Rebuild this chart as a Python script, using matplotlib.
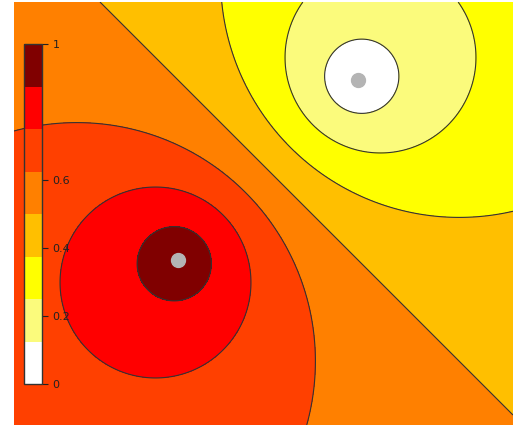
import matplotlib
matplotlib.use('Agg')
import matplotlib.pyplot as plt
import numpy as np
from matplotlib.colors import ListedColormap, BoundaryNorm

# obszar i zrodla
x_range = [0.0, 4.99]
y_range = [0.0, 4.23]
hot_source = [1.64, 1.65]
cold_source = [3.44, 3.45]

levels = [0, 0.125, 0.25, 0.375, 0.5, 0.625, 0.75, 0.875, 1.0]
colors = ['#ffffff', '#fbfb7c', '#ffff00', '#ffbf00',
          '#ff8000', '#ff4000', '#ff0000', '#800000']
cbar_ticks = [0, 0.2, 0.4, 0.6, 1]
cbar_labels = ['0', '0.2', '0.4', '0.6', '1']

# siatka
x = np.linspace(x_range[0], x_range[1], 700)
y = np.linspace(y_range[0], y_range[1], 600)
X, Y = np.meshgrid(x, y)
r1 = np.hypot(X - hot_source[0], Y - hot_source[1])
r2 = np.hypot(X - cold_source[0], Y - cold_source[1])
Z = r2 / (r1 + r2)

cmap = ListedColormap(colors)
norm = BoundaryNorm(levels, cmap.N)

fig = plt.figure(figsize=(5.13, 4.25), dpi=100)
ax = fig.add_axes([14 / 513, 0, 499 / 513, 423 / 425])
cf = ax.contourf(X, Y, Z, levels=levels, cmap=cmap, norm=norm)
ax.contour(X, Y, Z, levels=levels[1:-1], colors='#333333', linewidths=0.8)
ax.plot([hot_source[0], cold_source[0]], [hot_source[1], cold_source[1]],
        'o', color='#b4b4b4', markersize=10, linestyle='none')
ax.set_xlim(x_range)
ax.set_ylim(y_range)
ax.axis('off')

# pasek kolorow
cax = fig.add_axes([24 / 513, 41 / 425, 18 / 513, 340 / 425])
cb = fig.colorbar(cf, cax=cax, ticks=cbar_ticks)
cb.ax.minorticks_off()
cb.ax.set_yticklabels(cbar_labels)
cb.ax.tick_params(labelsize=8, length=4, width=0.8, colors='#222222')
cb.outline.set_linewidth(1.0)
cb.outline.set_edgecolor('#333333')

fig.savefig('out.png', dpi=100)
